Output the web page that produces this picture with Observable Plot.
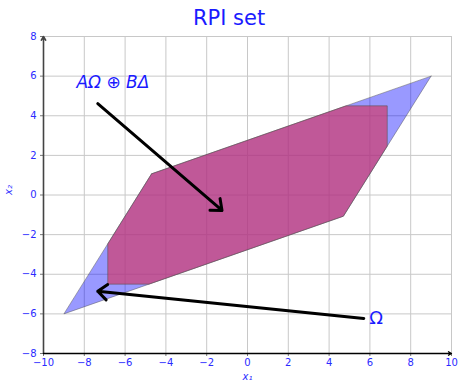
<!DOCTYPE html>
<html><head><meta charset="utf-8">
<script src="https://cdn.jsdelivr.net/npm/d3@7"></script>
<script src="https://cdn.jsdelivr.net/npm/@observablehq/plot@0.6"></script>
<style>
body{margin:0;background:#fff;font-family:"DejaVu Sans",sans-serif;}
#title{height:30px;line-height:36px;text-align:center;color:#1a1aff;font-size:21px;}
</style></head><body>
<div id="title">RPI set</div>
<div id="chart"></div>
<script>
// Ω (blue parallelogram)
const omegaX = [9, 4.7, -9, -4.7];
const omegaY = [6, -1.07, -6, 1.07];
// AΩ ⊕ BΔ (magenta)
const sumX = [-4.7, 4.83, 6.85, 6.85, 4.7, -4.83, -6.85, -6.85];
const sumY = [1.07, 4.5, 4.5, 2.47, -1.07, -4.5, -4.5, -2.47];
// annotation arrows
const arrowX1 = [-7.34, 5.7];
const arrowY1 = [4.61, -6.23];
const arrowX2 = [-1.25, -7.34];
const arrowY2 = [-0.78, -4.86];
const labelText = ["AΩ ⊕ BΔ", "Ω"];
const labelStyle = ["italic", "normal"];
const labelX = [-6.6, 6.3];
const labelY = [5.67, -6.23];
// axes
const xDomain = [-10, 10];
const yDomain = [-8, 8];
const xTicks = [-10, -8, -6, -4, -2, 0, 2, 4, 6, 8, 10];
const yTicks = [-8, -6, -4, -2, 0, 2, 4, 6, 8];
const xTickLabels = ["−10", "−8", "−6", "−4", "−2", "0", "2", "4", "6", "8", "10"];
const yTickLabels = ["−8", "−6", "−4", "−2", "0", "2", "4", "6", "8"];

const closed = (xs, ys) => { const p = xs.map((x, i) => ({x, y: ys[i]})); p.push(p[0]); return p; };
const omega = closed(omegaX, omegaY);
const sum = closed(sumX, sumY);
const arrows = arrowX1.map((x, i) => ({x1: x, y1: arrowY1[i], x2: arrowX2[i], y2: arrowY2[i]}));
const labels = labelText.map((t, i) => ({t, x: labelX[i], y: labelY[i], s: labelStyle[i]}));
const blue = "#2b2bff";

const chart = Plot.plot({
  width: 458, height: 353,
  marginLeft: 43, marginRight: 7, marginTop: 6, marginBottom: 30,
  style: {fontFamily: "DejaVu Sans, sans-serif", fontSize: "10px", background: "white"},
  x: {domain: xDomain},
  y: {domain: yDomain},
  marks: [
    Plot.gridX(xTicks, {stroke: "#c8c8c8", strokeOpacity: 1, strokeWidth: 1}),
    Plot.gridY(yTicks, {stroke: "#c8c8c8", strokeOpacity: 1, strokeWidth: 1}),
    Plot.line(omega, {x: "x", y: "y", fill: "#0000ff", fillOpacity: 0.4, stroke: "#555", strokeOpacity: 0.6, strokeWidth: 0.8}),
    Plot.line(sum, {x: "x", y: "y", fill: "#d03c6c", fillOpacity: 0.7, stroke: "#555", strokeOpacity: 0.7, strokeWidth: 0.8}),
    Plot.axisX(xTicks, {tickFormat: d => xTickLabels[xTicks.indexOf(d)], tickSize: 3, tickPadding: 2, stroke: "#777", fill: blue, label: null}),
    Plot.axisY(yTicks, {tickFormat: d => yTickLabels[yTicks.indexOf(d)], tickSize: 3, tickPadding: 4, stroke: "#777", fill: blue, label: null}),
    Plot.arrow([0], {x1: xDomain[0], y1: yDomain[0], x2: xDomain[0], y2: yDomain[1], stroke: "#444", strokeWidth: 1.6, headLength: 4}),
    Plot.arrow([0], {x1: xDomain[0], y1: yDomain[0], x2: xDomain[1], y2: yDomain[0], stroke: "black", strokeWidth: 1.3, headLength: 4}),
    Plot.arrow(arrows, {x1: "x1", y1: "y1", x2: "x2", y2: "y2", stroke: "black", strokeWidth: 3, headLength: 6, headAngle: 80}),
    Plot.text(labels.filter(d => d.s === "italic"), {x: "x", y: "y", text: "t", fill: "#1a1aff", fontSize: 17, fontStyle: "italic"}),
    Plot.text(labels.filter(d => d.s === "normal"), {x: "x", y: "y", text: "t", fill: "#1a1aff", fontSize: 18}),
    Plot.text(["x₁"], {frameAnchor: "bottom", dy: 26, text: d => d, fill: blue, fontSize: 10, fontStyle: "italic"}),
    Plot.text(["x₂"], {frameAnchor: "left", dx: -35, rotate: -90, text: d => d, fill: blue, fontSize: 10, fontStyle: "italic"})
  ]
});
document.getElementById("chart").appendChild(chart);
</script>
</body></html>
